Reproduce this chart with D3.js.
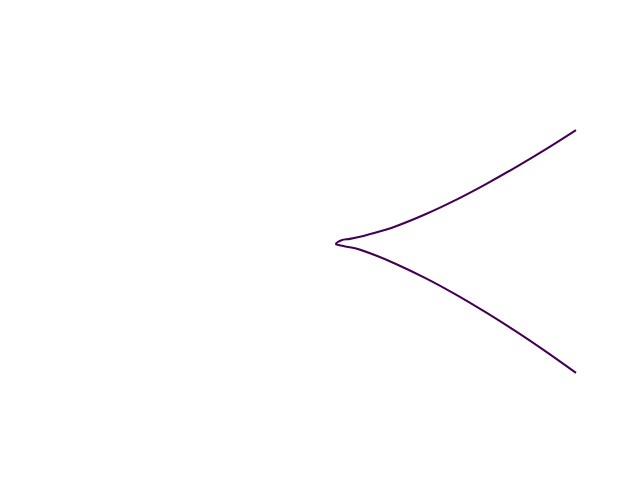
<!DOCTYPE html>
<html><head><meta charset="utf-8">
<script src="https://cdn.jsdelivr.net/npm/d3@7"></script>
<style>body{margin:0;background:#fff}</style>
</head><body>
<svg id="c" width="640" height="480"></svg>
<script>
// contour level path (data units), from upper end through cusp to lower end
const pathX = [2.0, 1.758, 1.516, 1.274, 1.032, 0.790, 0.548, 0.387, 0.285, 0.177, 0.109, 0.0645, 0.123, 0.226, 0.387, 0.548, 0.790, 1.032, 1.274, 1.516, 1.758, 2.0];
const pathY = [1.216, 1.010, 0.815, 0.631, 0.460, 0.307, 0.175, 0.106, 0.069, 0.038, 0.024, -0.017, -0.039, -0.066, -0.142, -0.233, -0.389, -0.565, -0.758, -0.964, -1.183, -1.413];
const xDomain = [-2, 2];
const yDomain = [-2, 2];

const svg = d3.select("#c");
const x = d3.scaleLinear().domain(xDomain).range([80, 576]);
const y = d3.scaleLinear().domain(yDomain).range([427.2, 57.6]);
const pts = pathX.map((v, i) => [v, pathY[i]]);
const line = d3.line().x(d => x(d[0])).y(d => y(d[1])).curve(d3.curveCatmullRom.alpha(0.5));
svg.append("path").attr("d", line(pts)).attr("fill", "none")
  .attr("stroke", "#440154").attr("stroke-width", 2.08).attr("stroke-linejoin", "round");
</script>
</body></html>
